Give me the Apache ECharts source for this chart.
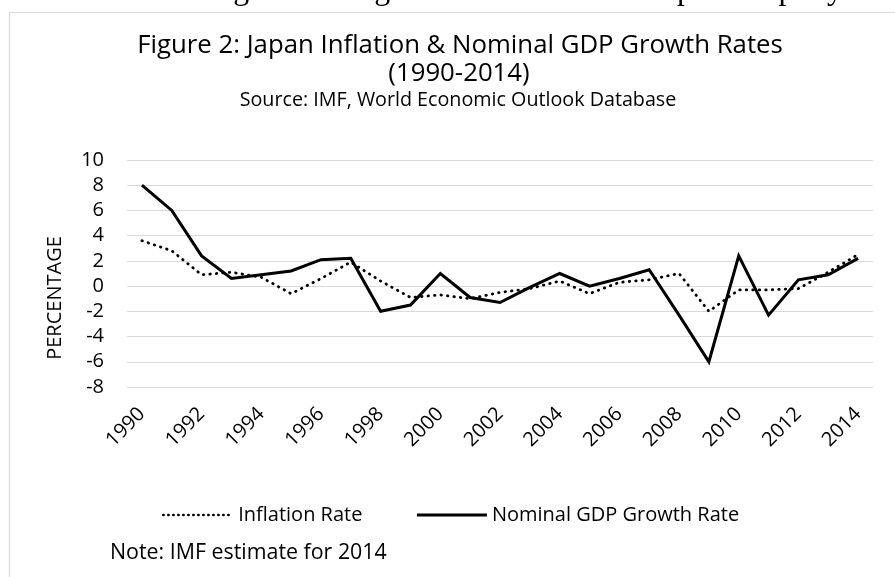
<!DOCTYPE html>
<html>
<head>
<meta charset="utf-8">
<script src="https://cdn.jsdelivr.net/npm/echarts@6/dist/echarts.min.js"></script>
<style>
  html, body { margin: 0; padding: 0; background: #fff; }
  #chart { width: 895px; height: 577px; }
</style>
</head>
<body>
<div id="chart"></div>
<script>
// Years on the category axis
const years = ['1990','1991','1992','1993','1994','1995','1996','1997','1998','1999',
               '2000','2001','2002','2003','2004','2005','2006','2007','2008','2009',
               '2010','2011','2012','2013','2014'];

// Annual inflation rate (%)
const inflation = [3.6, 2.8, 0.9, 1.1, 0.7, -0.6, 0.6, 1.9, 0.4, -0.9,
                   -0.7, -1.0, -0.5, -0.2, 0.4, -0.6, 0.3, 0.5, 1.0, -2.0,
                   -0.3, -0.3, -0.2, 1.1, 2.5];

// Nominal GDP growth rate (%)
const gdpGrowth = [8.0, 6.0, 2.4, 0.6, 0.9, 1.2, 2.1, 2.2, -2.0, -1.5,
                   1.0, -0.9, -1.3, -0.1, 1.0, 0.0, 0.6, 1.3, -2.3, -6.0,
                   2.4, -2.3, 0.5, 0.9, 2.2];

const seriesNames = ['Inflation Rate', 'Nominal GDP Growth Rate'];

const titleLines = ['Figure 2: Japan Inflation & Nominal GDP Growth Rates', '(1990-2014)'];
const sourceText = 'Source: IMF, World Economic Outlook Database';
const noteText = 'Note: IMF estimate for 2014';
const axisTitle = 'PERCENTAGE';
const bodyText = 'nal real and negative real growth rates of about 3 percent per year';

const SANS = '"Open Sans", "Noto Sans", sans-serif';
const SERIF = '"Liberation Serif", "DejaVu Serif", serif';

// font size that makes a string span a given width
const measureCtx = document.createElement('canvas').getContext('2d');
function fitSize(text, family, width) {
  measureCtx.font = '100px ' + family;
  return 100 * width / measureCtx.measureText(text).width;
}

const titleSize = fitSize(titleLines[0], SANS, 646);
const sourceSize = fitSize(sourceText, SANS, 437);
const noteSize = fitSize(noteText, SANS, 277);
const bodySize = fitSize(bodyText, SERIF, 835);

function label(text, x, y, size, family, align, extra) {
  align = align || 'center';
  return Object.assign({
    type: 'text',
    x: x, y: y,
    silent: true,
    style: {
      text: text, x: 0, y: 0,
      font: size.toFixed(2) + 'px ' + family,
      fill: '#000',
      align: align, verticalAlign: 'middle',
      textAlign: align, textVerticalAlign: 'middle'
    }
  }, extra || {});
}

const dottedStyle = { color: '#000', width: 2.8, type: [0.5, 6], cap: 'round' };
const solidStyle = { color: '#000', width: 3, cap: 'butt', join: 'miter' };

const chart = echarts.init(document.getElementById('chart'), null, { renderer: 'canvas' });

chart.setOption({
  animation: false,
  backgroundColor: '#fff',
  textStyle: { fontFamily: SANS, color: '#000' },
  grid: { left: 127, right: 22, top: 160, bottom: 190, containLabel: false },
  legend: {
    data: [
      { name: seriesNames[0], lineStyle: { color: '#000', width: 2.4, type: [0.5, 4.5], cap: 'round' } },
      { name: seriesNames[1], lineStyle: { color: '#000', width: 3, type: 'solid' } }
    ],
    left: 157,
    top: 500,
    itemWidth: 70,
    itemHeight: 14,
    itemGap: 53,
    itemStyle: { opacity: 0 },
    textStyle: { fontSize: 20, fontFamily: SANS, color: '#000' }
  },
  xAxis: {
    type: 'category',
    data: years,
    boundaryGap: true,
    axisLine: { show: false },
    axisTick: { show: false },
    splitLine: { show: false },
    axisLabel: {
      interval: 1,
      rotate: 45,
      margin: 24,
      fontSize: 20,
      fontFamily: SANS,
      color: '#000'
    }
  },
  yAxis: {
    type: 'value',
    min: -8,
    max: 10,
    interval: 2,
    axisLine: { show: false },
    axisTick: { show: false },
    splitLine: { lineStyle: { color: '#d9d9d9', width: 1 } },
    axisLabel: { margin: 23, fontSize: 20, fontFamily: SANS, color: '#000' }
  },
  series: [
    {
      name: seriesNames[0],
      type: 'line',
      data: inflation,
      symbol: 'none',
      z: 2,
      lineStyle: dottedStyle,
      itemStyle: { color: '#000' }
    },
    {
      name: seriesNames[1],
      type: 'line',
      data: gdpGrowth,
      symbol: 'none',
      z: 3,
      lineStyle: solidStyle,
      itemStyle: { color: '#000' }
    }
  ],
  graphic: [
    // chart frame
    {
      type: 'rect', silent: true, z: -1,
      shape: { x: 9.5, y: 12.5, width: 1000, height: 1000 },
      style: { fill: 'none', stroke: '#d9d9d9', lineWidth: 1.2 }
    },
    // running text of the page above the chart
    label(bodyText, 47, -9, bodySize, SERIF, 'left'),
    label(titleLines[0], 460, 46, titleSize, SANS),
    label(titleLines[1], 459, 74, titleSize, SANS),
    label(sourceText, 458, 100, sourceSize, SANS),
    label(axisTitle, 55, 298, 20, SANS, 'center', { rotation: Math.PI / 2 }),
    label(noteText, 110, 553, noteSize, SANS, 'left')
  ]
});
</script>
</body>
</html>
